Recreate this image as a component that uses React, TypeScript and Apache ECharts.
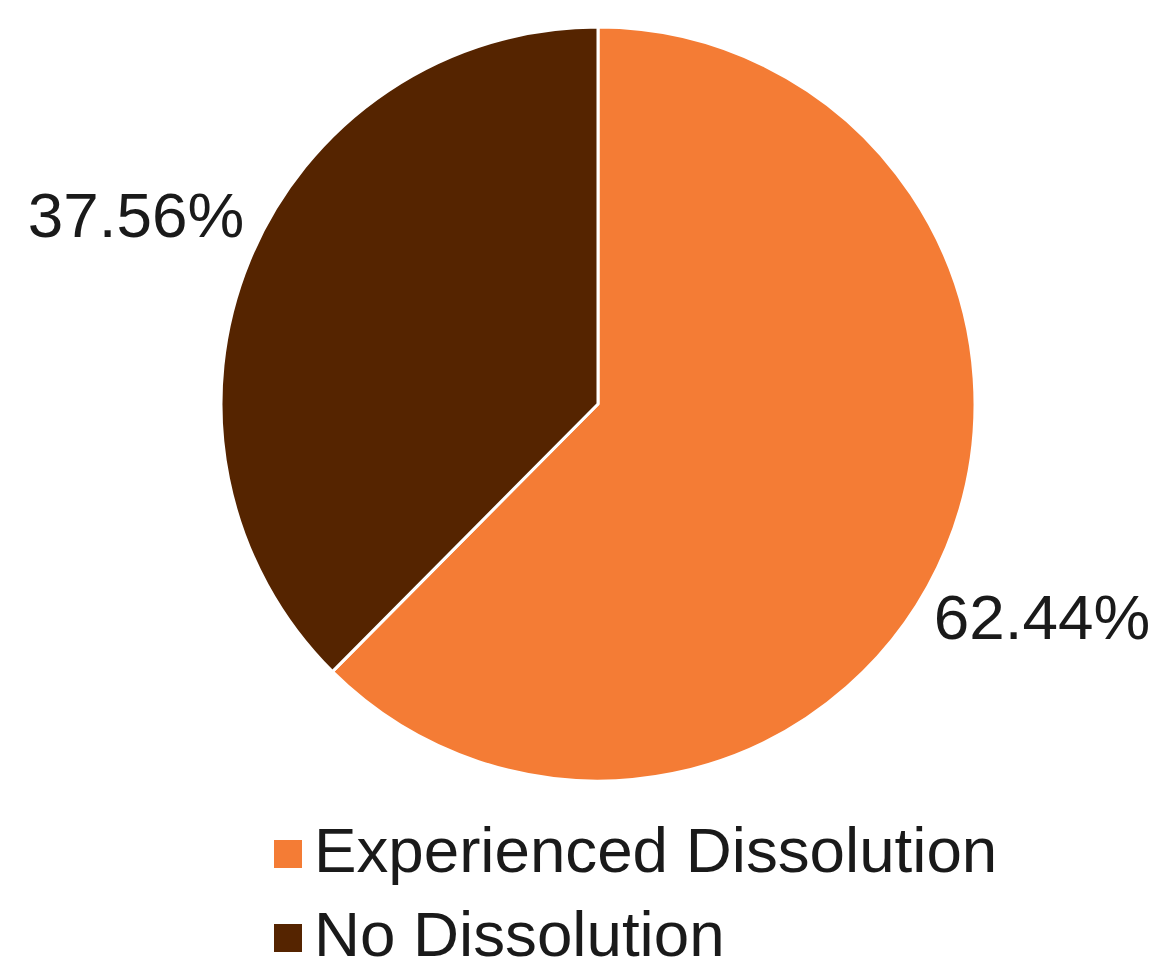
import React, { useEffect, useRef } from "react";
import * as echarts from "echarts";

const categories = ["Experienced Dissolution", "No Dissolution"];
const values = [62.44, 37.56];
const colors = ["#F47C35", "#552400"];
const labelPositions = [
  [1042, 617],
  [136, 215],
];
const legendTops = [817, 901];

const FONT = "Liberation Sans, Arial, Helvetica, sans-serif";

export default function App() {
  const ref = useRef<HTMLDivElement>(null);
  useEffect(() => {
    if (!ref.current) return;
    const chart = echarts.init(ref.current, undefined, { renderer: "svg" });
    chart.setOption({
      animation: false,
      backgroundColor: "#ffffff",
      legend: categories.map((c, i) => ({
        orient: "vertical",
        left: 274,
        top: legendTops[i],
        padding: 0,
        itemWidth: 35,
        itemHeight: 28,
        icon: "path://M0,0H28V28H0ZM35,14L35,14",
        itemStyle: { borderWidth: 0 },
        data: [c],
        formatter: (name: string) => `{a|${name}}`,
        textStyle: {
          fontFamily: FONT,
          fontSize: 63.7,
          color: "#1a1a1a",
          rich: {
            a: {
              fontFamily: FONT,
              fontSize: 63.7,
              color: "#1a1a1a",
              padding: [0, 0, 10, 0],
            },
          },
        },
        selectedMode: false,
      })),
      series: [
        {
          type: "pie",
          center: [598, 404],
          radius: [0, 377],
          startAngle: 90,
          clockwise: true,
          data: categories.map((c, i) => ({
            name: c,
            value: values[i],
            itemStyle: { color: colors[i] },
          })),
          itemStyle: { borderColor: "#ffffff", borderWidth: 3 },
          label: {
            show: true,
            position: "inside",
            overflow: "none",
            formatter: (p: any) => p.value.toFixed(2) + "%",
            fontFamily: FONT,
            fontSize: 63.8,
            color: "#1a1a1a",
          },
          labelLine: { show: false },
          labelLayout: (p: any) => ({
            x: labelPositions[p.dataIndex][0],
            y: labelPositions[p.dataIndex][1],
            align: "center",
            verticalAlign: "middle",
          }),
          emphasis: { disabled: true },
        },
      ],
    });
    return () => chart.dispose();
  }, []);
  return (
    <div
      ref={ref}
      style={{ position: "absolute", left: 0, top: 0, width: 1156, height: 959 }}
    />
  );
}
